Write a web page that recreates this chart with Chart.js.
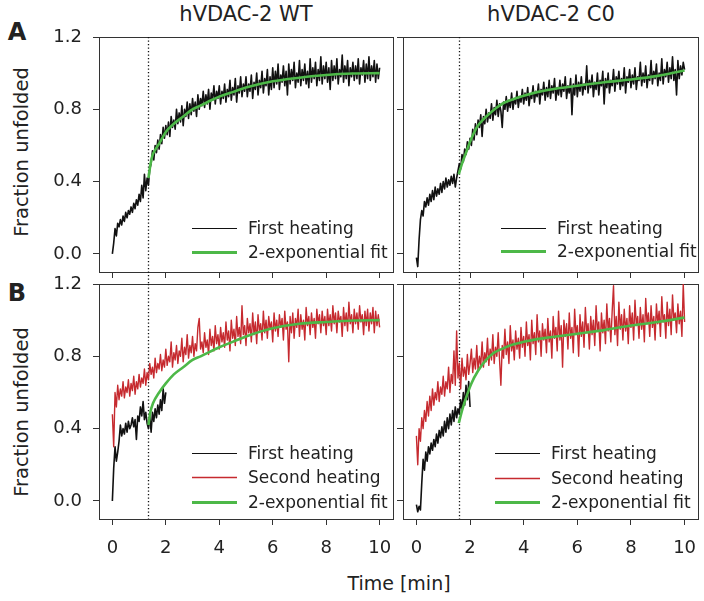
<!DOCTYPE html>
<html>
<head>
<meta charset="utf-8">
<script src="https://cdn.jsdelivr.net/npm/chart.js@4.4.1/dist/chart.umd.min.js"></script>
<style>
  body { margin: 0; background: #fff; width: 704px; height: 601px; position: relative; overflow: hidden;
         font-family: 'DejaVu Sans', sans-serif; color: #222; }
  canvas { position: absolute; }
  .lbl { position: absolute; white-space: nowrap; transform: translate(-50%, -50%); line-height: 1; }
  .rot { transform: translate(-50%, -50%) rotate(-90deg); }
</style>
</head>
<body>
<div class="lbl" style="left:246px;top:14px;font-size:21px">hVDAC-2 WT</div>
<div class="lbl" style="left:551px;top:14px;font-size:21px">hVDAC-2 C0</div>
<div class="lbl" style="left:17px;top:32px;font-size:24px;font-weight:bold">A</div>
<div class="lbl" style="left:17px;top:293px;font-size:24px;font-weight:bold">B</div>
<div class="lbl rot" style="left:22px;top:152px;font-size:19.5px">Fraction unfolded</div>
<div class="lbl rot" style="left:22px;top:412px;font-size:19.5px">Fraction unfolded</div>
<div class="lbl" style="left:399px;top:583px;font-size:19px">Time [min]</div>

<canvas id="wtFirst" width="400" height="285" style="left:0;top:0"></canvas>
<canvas id="c0First" width="309" height="285" style="left:395px;top:0"></canvas>
<canvas id="wtSecond" width="400" height="339" style="left:0;top:262px"></canvas>
<canvas id="c0Second" width="309" height="339" style="left:395px;top:262px"></canvas>

<script>
// sampling interval of the heating traces (min)
var STEP = 0.05;

var timeTicks = [0, 2, 4, 6, 8, 10];
var fractionTicks = [0, 0.4, 0.8, 1.2];

// dotted line = start of the fit (min)
var wtMarker = 1.35;
var c0Marker = 1.58;

// hVDAC-2 WT, first heating (0..10 min)
var wtFirstHeating = [
  0.00, 0.06, 0.14, 0.10, 0.17, 0.15, 0.19, 0.16, 0.21, 0.18, 0.23, 0.20, 0.24, 0.22, 0.26, 0.23, 0.28, 0.25, 0.30, 0.27,
  0.33, 0.29, 0.38, 0.31, 0.44, 0.35, 0.42, 0.38, 0.47, 0.50, 0.57, 0.52, 0.60, 0.56, 0.63, 0.58, 0.66, 0.61, 0.70, 0.64,
  0.71, 0.66, 0.73, 0.65, 0.76, 0.70, 0.74, 0.69, 0.80, 0.72, 0.78, 0.73, 0.82, 0.71, 0.80, 0.76, 0.84, 0.75, 0.83, 0.77,
  0.86, 0.79, 0.84, 0.76, 0.88, 0.80, 0.86, 0.82, 0.90, 0.81, 0.88, 0.83, 0.91, 0.80, 0.89, 0.85, 0.93, 0.83, 0.90, 0.86,
  0.93, 0.83, 0.90, 0.86, 0.94, 0.84, 0.91, 0.87, 0.96, 0.85, 0.92, 0.88, 0.97, 0.84, 0.93, 0.89, 0.98, 0.87, 0.94, 0.90,
  0.98, 0.87, 0.94, 0.90, 0.99, 0.86, 0.95, 0.91, 1.00, 0.88, 0.96, 0.92, 1.01, 0.89, 0.97, 0.93, 1.02, 0.88, 0.98, 0.91,
  1.03, 0.92, 1.01, 0.94, 1.05, 0.91, 0.99, 0.95, 1.04, 0.93, 1.01, 0.88, 1.05, 0.94, 1.02, 0.96, 1.06, 0.92, 1.00, 0.95,
  1.07, 0.93, 1.02, 0.96, 1.05, 0.94, 1.01, 0.92, 1.08, 0.95, 1.03, 0.97, 1.06, 0.93, 1.02, 0.96, 1.09, 0.94, 1.04, 0.97,
  1.06, 0.95, 1.03, 0.91, 1.07, 0.96, 1.04, 0.97, 1.08, 0.94, 1.02, 0.98, 1.10, 0.95, 1.04, 0.97, 1.07, 0.93, 1.03, 0.98,
  1.06, 0.96, 1.04, 0.97, 1.08, 0.94, 1.03, 0.99, 1.07, 0.95, 1.05, 0.97, 1.09, 0.96, 1.04, 0.98, 1.07, 0.95, 1.05, 0.97,
  1.03
];

// hVDAC-2 C0, first heating (0..10 min)
var c0FirstHeating = [
  -0.02, -0.07, 0.08, 0.19, 0.24, 0.21, 0.29, 0.26, 0.31, 0.27, 0.33, 0.29, 0.35, 0.30, 0.37, 0.32, 0.36, 0.33, 0.39, 0.34,
  0.40, 0.36, 0.42, 0.37, 0.41, 0.38, 0.43, 0.39, 0.44, 0.37, 0.42, 0.46, 0.50, 0.47, 0.55, 0.51, 0.58, 0.55, 0.62, 0.58,
  0.64, 0.60, 0.69, 0.63, 0.72, 0.66, 0.74, 0.70, 0.77, 0.65, 0.76, 0.72, 0.80, 0.73, 0.78, 0.75, 0.83, 0.74, 0.81, 0.77,
  0.85, 0.76, 0.83, 0.79, 0.70, 0.84, 0.80, 0.87, 0.79, 0.85, 0.81, 0.89, 0.80, 0.86, 0.83, 0.90, 0.81, 0.87, 0.84, 0.91,
  0.83, 0.89, 0.85, 0.92, 0.82, 0.88, 0.86, 0.93, 0.84, 0.90, 0.87, 0.94, 0.83, 0.91, 0.88, 0.95, 0.85, 0.92, 0.87, 0.96,
  0.86, 0.93, 0.89, 0.97, 0.85, 0.92, 0.88, 0.96, 0.87, 0.94, 0.90, 0.98, 0.86, 0.93, 0.89, 0.97, 0.77, 0.94, 0.88, 0.99,
  0.87, 0.95, 0.90, 0.98, 0.88, 0.94, 0.91, 1.04, 0.89, 0.96, 0.92, 0.99, 0.87, 0.95, 0.91, 1.00, 0.88, 0.96, 0.93, 1.01,
  0.83, 0.97, 0.92, 1.00, 0.89, 0.96, 0.93, 1.02, 0.90, 0.98, 0.94, 1.01, 0.91, 0.97, 0.93, 1.03, 0.89, 0.98, 0.95, 1.02,
  0.92, 0.99, 0.94, 1.03, 0.91, 0.98, 0.96, 1.06, 0.93, 1.00, 0.95, 1.04, 0.92, 0.99, 0.96, 1.07, 0.94, 1.01, 0.97, 1.05,
  0.93, 1.00, 0.96, 1.08, 0.94, 1.02, 0.98, 1.06, 0.95, 1.03, 0.97, 1.09, 0.96, 1.02, 0.88, 1.07, 0.97, 1.04, 0.99, 1.06,
  1.02
];

// panel B, first heating stopped at 2 min
var wtFirstShort = [
  0.00, 0.18, 0.30, 0.22, 0.27, 0.33, 0.42, 0.36, 0.40, 0.37, 0.43, 0.38, 0.44, 0.40, 0.42, 0.46, 0.41, 0.45, 0.34, 0.47,
  0.44, 0.52, 0.47, 0.55, 0.45, 0.49, 0.43, 0.40, 0.47, 0.38, 0.49, 0.44, 0.51, 0.46, 0.53, 0.48, 0.56, 0.50, 0.62, 0.54,
  0.60
];
var c0FirstShort = [
  -0.02, -0.06, -0.03, -0.05, 0.10, 0.23, 0.17, 0.27, 0.22, 0.30, 0.26, 0.32, 0.28, 0.34, 0.30, 0.37, 0.32, 0.39, 0.35, 0.41,
  0.36, 0.44, 0.38, 0.46, 0.40, 0.48, 0.42, 0.50, 0.44, 0.52, 0.46, 0.51, 0.48, 0.56, 0.50, 0.60, 0.53, 0.64, 0.56, 0.66,
  0.52
];

// panel B, second heating (0..10 min)
var wtSecondHeating = [
  0.48, 0.30, 0.60, 0.52, 0.64, 0.56, 0.62, 0.58, 0.66, 0.57, 0.63, 0.60, 0.67, 0.58, 0.65, 0.61, 0.69, 0.59, 0.66, 0.62,
  0.70, 0.63, 0.68, 0.65, 0.73, 0.64, 0.71, 0.67, 0.76, 0.70, 0.74, 0.68, 0.79, 0.71, 0.76, 0.73, 0.81, 0.72, 0.78, 0.74,
  0.84, 0.75, 0.80, 0.77, 0.88, 0.74, 0.82, 0.78, 0.86, 0.76, 0.83, 0.80, 0.90, 0.77, 0.85, 0.81, 0.92, 0.79, 0.86, 0.82,
  0.91, 0.80, 0.87, 0.83, 0.96, 1.01, 0.84, 0.88, 0.82, 0.93, 0.85, 0.89, 0.81, 0.95, 0.86, 0.91, 0.83, 0.97, 0.87, 0.92,
  0.84, 0.96, 0.88, 0.93, 0.85, 0.99, 0.89, 0.94, 0.83, 1.00, 0.90, 0.95, 0.86, 1.02, 0.91, 0.96, 0.87, 1.08, 0.92, 0.97,
  0.86, 1.01, 0.93, 0.98, 0.88, 1.04, 0.92, 0.99, 0.87, 1.03, 0.94, 0.98, 0.89, 1.05, 0.93, 1.00, 0.90, 1.02, 0.95, 0.99,
  0.88, 1.04, 0.94, 1.00, 0.91, 1.03, 0.96, 1.01, 0.89, 1.05, 0.95, 0.99, 0.77, 1.02, 0.93, 1.04, 0.90, 1.01, 0.96, 1.06,
  0.91, 1.03, 0.95, 1.00, 0.89, 1.07, 0.97, 1.02, 0.92, 1.04, 0.96, 1.01, 0.90, 1.06, 0.98, 1.03, 0.93, 1.05, 0.97, 1.02,
  0.92, 1.06, 0.97, 1.03, 0.94, 1.08, 0.98, 1.04, 0.93, 1.05, 0.99, 1.02, 0.91, 1.07, 0.97, 1.04, 0.94, 1.10, 0.98, 1.03,
  0.93, 1.06, 0.98, 1.04, 0.95, 1.08, 0.99, 1.03, 0.92, 1.05, 0.97, 1.06, 0.94, 1.04, 0.98, 1.07, 0.93, 1.05, 0.97, 1.03,
  0.96
];
var c0SecondHeating = [
  0.36, 0.20, 0.40, 0.33, 0.46, 0.40, 0.50, 0.44, 0.55, 0.47, 0.58, 0.50, 0.62, 0.53, 0.60, 0.56, 0.66, 0.55, 0.63, 0.59,
  0.69, 0.58, 0.66, 0.62, 0.74, 0.60, 0.70, 0.65, 0.83, 0.64, 0.94, 0.68, 0.76, 0.62, 0.79, 0.69, 0.74, 0.67, 0.81, 0.70,
  0.76, 0.84, 0.71, 0.79, 0.73, 0.86, 0.72, 0.80, 0.75, 0.88, 0.74, 0.82, 0.77, 0.90, 0.75, 0.84, 0.78, 0.92, 0.76, 0.85,
  0.80, 0.93, 0.78, 0.64, 0.86, 0.79, 0.95, 0.81, 0.88, 0.76, 0.97, 0.83, 0.89, 0.78, 0.94, 0.84, 0.90, 0.79, 0.96, 0.85,
  0.91, 0.80, 0.99, 0.86, 0.92, 0.78, 1.00, 0.87, 0.93, 0.81, 1.03, 0.88, 0.94, 0.80, 0.98, 0.89, 0.95, 0.82, 1.01, 0.88,
  0.94, 0.79, 1.02, 0.90, 0.96, 0.83, 1.05, 0.89, 0.97, 0.74, 1.00, 0.91, 0.98, 0.84, 1.04, 0.90, 0.96, 0.82, 1.06, 0.92,
  0.97, 0.80, 1.03, 0.91, 0.99, 0.85, 1.07, 0.93, 0.98, 0.84, 1.02, 0.92, 1.00, 0.86, 1.08, 0.94, 0.99, 0.83, 1.04, 0.93,
  1.00, 0.87, 1.09, 0.94, 1.01, 0.88, 1.05, 1.19, 0.92, 1.02, 0.86, 1.10, 0.95, 1.03, 0.89, 1.06, 0.94, 1.01, 0.87, 1.08,
  0.96, 1.04, 0.89, 1.11, 0.97, 1.02, 0.90, 1.07, 0.95, 1.03, 0.88, 1.12, 0.98, 1.04, 0.91, 1.08, 0.96, 1.02, 0.89, 1.09,
  0.98, 1.05, 0.91, 1.13, 0.99, 1.03, 0.90, 1.10, 0.97, 1.06, 0.92, 1.14, 1.00, 1.04, 0.93, 1.09, 0.98, 1.05, 0.91, 1.20,
  0.99
];

// 2-exponential fits, read at a few times
var wtFitTimesA = [1.35, 1.42, 1.5, 1.6, 1.75, 2.0, 2.3, 2.65, 3.0, 3.3, 3.7, 4.0, 4.5, 5.0, 6.0, 7.0, 8.0, 9.0, 10.0];
var wtFitA      = [0.42, 0.49, 0.545, 0.575, 0.61, 0.675, 0.72, 0.76, 0.80, 0.82, 0.85, 0.87, 0.895, 0.92, 0.955, 0.975, 0.99, 0.998, 1.0];
var c0FitTimesA = [1.58, 1.7, 1.85, 2.0, 2.25, 2.5, 2.75, 3.0, 3.25, 3.5, 4.0, 4.5, 5.0, 6.0, 7.0, 8.0, 9.0, 10.0];
var c0FitA      = [0.44, 0.50, 0.56, 0.62, 0.70, 0.745, 0.78, 0.81, 0.835, 0.85, 0.875, 0.895, 0.91, 0.93, 0.95, 0.965, 0.985, 1.015];
var wtFitTimesB = [1.35, 1.42, 1.52, 1.75, 2.0, 2.3, 2.65, 3.0, 3.3, 4.0, 4.5, 5.0, 6.0, 7.0, 8.0, 9.0, 10.0];
var wtFitB      = [0.42, 0.49, 0.54, 0.60, 0.65, 0.70, 0.74, 0.78, 0.80, 0.85, 0.88, 0.91, 0.955, 0.98, 0.99, 0.998, 1.0];
var c0FitTimesB = [1.58, 1.7, 1.85, 2.05, 2.3, 2.6, 2.9, 3.25, 3.6, 4.0, 4.5, 5.0, 6.0, 7.0, 8.0, 9.0, 10.0];
var c0FitB      = [0.43, 0.50, 0.57, 0.65, 0.72, 0.78, 0.82, 0.845, 0.865, 0.88, 0.895, 0.905, 0.925, 0.945, 0.97, 0.99, 1.014];

var BLACK = '#111111';
var RED = '#c62a2f';
var GREEN = '#4db848';

Chart.defaults.font.family = "'DejaVu Sans', sans-serif";
Chart.defaults.font.size = 18;
Chart.defaults.color = '#222';

function sampled(values) {
    return values.map(function (v, i) { return { x: +(i * STEP).toFixed(2), y: v }; });
}
function paired(times, values) {
    return times.map(function (t, i) { return { x: t, y: values[i] }; });
}

function trace(label, color, data, order) {
    return { label: label, data: data, borderColor: color, borderWidth: color === RED ? 1.4 : 1.6, pointRadius: 0,
             borderJoinStyle: 'round', order: order, legendWidth: color === RED ? 1.5 : 1.2 };
}
function fit(data) {
    return { label: '2-exponential fit', data: data, borderColor: GREEN, borderWidth: 2.6, pointRadius: 0,
             cubicInterpolationMode: 'monotone', order: 0, legendWidth: 3 };
}

// box round the plot, dotted marker line, legend in the lower right
var panelDeco = {
    id: 'panelDeco',
    beforeDatasetsDraw: function (chart, args, opts) {
        var ctx = chart.ctx, a = chart.chartArea;
        ctx.save();
        ctx.strokeStyle = '#333';
        ctx.lineWidth = 1;
        ctx.strokeRect(Math.round(a.left) + 0.5, Math.round(a.top) + 0.5,
                       Math.round(a.right - a.left), Math.round(a.bottom - a.top));
        var x = Math.round(chart.scales.x.getPixelForValue(opts.marker)) + 0.5;
        ctx.setLineDash([1.2, 2.3]);
        ctx.strokeStyle = '#111';
        ctx.lineWidth = 1.3;
        ctx.beginPath();
        ctx.moveTo(x, a.top);
        ctx.lineTo(x, opts.extend ? chart.height : a.bottom);
        ctx.stroke();
        ctx.restore();
    },
    afterDatasetsDraw: function (chart, args, opts) {
        var ctx = chart.ctx, a = chart.chartArea;
        ctx.save();
        ctx.font = "17px 'DejaVu Sans', sans-serif";
        ctx.textBaseline = 'middle';
        ctx.fillStyle = '#222';
        chart.data.datasets.forEach(function (ds, i) {
            var y = Math.round(a.bottom - opts.rows[i]) + 0.5;
            ctx.strokeStyle = ds.borderColor;
            ctx.lineWidth = ds.legendWidth;
            ctx.beginPath();
            ctx.moveTo(a.left + opts.lineX0, y);
            ctx.lineTo(a.left + opts.lineX1, y);
            ctx.stroke();
            ctx.fillText(ds.label, a.left + opts.textX, y + 1);
        });
        ctx.restore();
    }
};

function makePanel(id, datasets, cfg) {
    var tickGrid = { drawOnChartArea: false, drawTicks: true, tickLength: 6, color: '#333', lineWidth: 1 };
    return new Chart(document.getElementById(id), {
        type: 'line',
        data: { datasets: datasets },
        options: {
            responsive: false,
            animation: false,
            layout: { padding: cfg.padding },
            plugins: {
                legend: { display: false },
                tooltip: { enabled: false },
                panelDeco: { marker: cfg.marker, extend: cfg.extend, rows: cfg.rows,
                             lineX0: cfg.lineX0, lineX1: cfg.lineX0 + 45, textX: cfg.lineX0 + 56 }
            },
            scales: {
                x: {
                    type: 'linear', min: -0.5, max: 10.5,
                    afterBuildTicks: function (s) { s.ticks = timeTicks.map(function (v) { return { value: v }; }); },
                    afterFit: function (s) {
                        s.height = cfg.xHeight;
                        s.paddingLeft = 0; s.paddingRight = 0; s.paddingTop = 0; s.paddingBottom = 0;
                    },
                    grid: tickGrid,
                    border: { display: false },
                    ticks: { display: cfg.xLabels, padding: 13, maxRotation: 0,
                             callback: function (v) { return String(v); } }
                },
                y: {
                    min: -0.1, max: 1.2,
                    afterBuildTicks: function (s) { s.ticks = fractionTicks.map(function (v) { return { value: v }; }); },
                    afterFit: function (s) {
                        s.width = cfg.yWidth;
                        s.paddingLeft = 0; s.paddingRight = 0; s.paddingTop = 0; s.paddingBottom = 0;
                    },
                    grid: tickGrid,
                    border: { display: false },
                    ticks: { display: cfg.yLabels, padding: 11,
                             callback: function (v) { return v.toFixed(1); } }
                }
            }
        },
        plugins: [panelDeco]
    });
}

makePanel('wtFirst', [
    trace('First heating', BLACK, sampled(wtFirstHeating), 2),
    fit(paired(wtFitTimesA, wtFitA))
], { padding: { top: 37, right: 7, left: 0, bottom: 0 }, yWidth: 99, xHeight: 13, xLabels: false, yLabels: true,
     marker: wtMarker, extend: true, rows: [44, 20], lineX0: 93 });

makePanel('c0First', [
    trace('First heating', BLACK, sampled(c0FirstHeating), 2),
    fit(paired(c0FitTimesA, c0FitA))
], { padding: { top: 37, right: 6, left: 0, bottom: 0 }, yWidth: 8, xHeight: 13, xLabels: false, yLabels: false,
     marker: c0Marker, extend: true, rows: [44, 21], lineX0: 98 });

makePanel('wtSecond', [
    trace('First heating', BLACK, sampled(wtFirstShort), 2),
    trace('Second heating', RED, sampled(wtSecondHeating), 1),
    fit(paired(wtFitTimesB, wtFitB))
], { padding: { top: 22, right: 7, left: 0, bottom: 0 }, yWidth: 99, xHeight: 82, xLabels: true, yLabels: true,
     marker: wtMarker, extend: false, rows: [66, 42, 17], lineX0: 93 });

makePanel('c0Second', [
    trace('First heating', BLACK, sampled(c0FirstShort), 2),
    trace('Second heating', RED, sampled(c0SecondHeating), 1),
    fit(paired(c0FitTimesB, c0FitB))
], { padding: { top: 22, right: 6, left: 0, bottom: 0 }, yWidth: 8, xHeight: 82, xLabels: true, yLabels: false,
     marker: c0Marker, extend: false, rows: [66, 41, 17], lineX0: 92 });
</script>
</body>
</html>
